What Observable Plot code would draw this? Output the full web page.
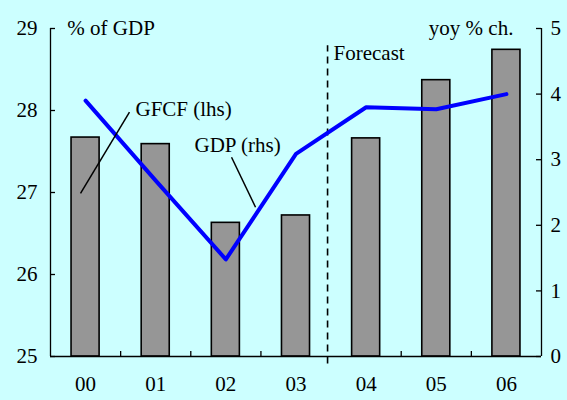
<!DOCTYPE html>
<html><head><meta charset="utf-8">
<script src="https://cdn.jsdelivr.net/npm/d3@7"></script>
<script src="https://cdn.jsdelivr.net/npm/@observablehq/plot@0.6"></script>
<style>
html,body{margin:0;padding:0;background:#ccffff;font-family:"Liberation Serif",serif;}
</style>
</head><body><div id="chart"></div>
<script>
const years = ["00","01","02","03","04","05","06"];
const gfcf = [27.67, 27.59, 26.63, 26.72, 27.66, 28.37, 28.74];
const gdp = [3.90, 2.68, 1.48, 3.09, 3.80, 3.77, 4.00];
const leftTicks = [25, 26, 27, 28, 29];
const rightTicks = [0, 1, 2, 3, 4, 5];
const forecastAt = 3.45;

const toLeft = v => 25 + v * 0.8;
const data = years.map((y, i) => ({i, year: y, gfcf: gfcf[i], gdp: gdp[i]}));
const bounds = years.slice(1).map((y, i) => i + 0.5).filter(b => Math.abs(b - forecastAt) > 0.2);
const tickLen = 5 / 70.14;
const tickLenY = 5 / 82;

const startLabels = [
  {x: -0.26, y: 29, text: "% of GDP"},
  {x: 3.535, y: 28.70, text: "Forecast"},
  {x: 0.712, y: 28.02, text: "GFCF (lhs)"},
  {x: 1.553, y: 27.57, text: "GDP (rhs)"}
];
const endLabels = [
  {x: 6.10, y: 29, text: "yoy % ch."}
];
const leaders = [
  {x1: -0.072, y1: 26.99, x2: 0.626, y2: 27.98},
  {x1: 2.081, y1: 27.43, x2: 2.423, y2: 26.82}
];

const serif = "Liberation Serif";
const fs = 21;
const chart = Plot.plot({
  width: 567, height: 400,
  marginLeft: 50, marginRight: 26, marginTop: 28, marginBottom: 44,
  style: {background: "#ccffff", fontFamily: serif, fontSize: fs + "px", color: "black"},
  x: {domain: [-0.5, 6.5], axis: null},
  y: {domain: [25, 29], axis: null},
  marks: [
    Plot.rectY(data, {x1: d => d.i - 0.2, x2: d => d.i + 0.2, y1: 25, y2: "gfcf", fill: "#969696", stroke: "black", strokeWidth: 1.6}),
    Plot.ruleX([forecastAt], {y1: 24.91, y2: 28.79, stroke: "black", strokeWidth: 1.6, strokeDasharray: "7,5"}),
    Plot.line(data, {x: "i", y: d => toLeft(d.gdp), stroke: "#0000ff", strokeWidth: 4}),
    Plot.link(leaders, {x1: "x1", y1: "y1", x2: "x2", y2: "y2", stroke: "black", strokeWidth: 1.5}),
    Plot.ruleX([-0.5, 6.5], {y1: 25, y2: 29, stroke: "black", strokeWidth: 1.3}),
    Plot.ruleY([25], {stroke: "black", strokeWidth: 1.3}),
    Plot.ruleX(bounds, {x: d => d, y1: 25, y2: 25 + tickLenY, stroke: "black", strokeWidth: 1.3}),
    Plot.ruleY(leftTicks, {y: d => d, x1: -0.5, x2: -0.5 + tickLen, stroke: "black", strokeWidth: 1.3}),
    Plot.ruleY(rightTicks.map(toLeft), {y: d => d, x1: 6.5 - tickLen, x2: 6.5, stroke: "black", strokeWidth: 1.3}),
    Plot.axisY(leftTicks, {anchor: "left", tickSize: 0, tickPadding: 13, fontSize: fs, fontFamily: serif, tickFormat: d => String(d)}),
    Plot.axisY(rightTicks.map(toLeft), {anchor: "right", tickSize: 0, tickPadding: 9, fontSize: fs, fontFamily: serif, tickFormat: d => String(Math.round((d - 25) / 0.8))}),
    Plot.axisX(d3.range(years.length), {anchor: "bottom", tickSize: 0, tickPadding: 20, fontSize: fs, fontFamily: serif, tickFormat: i => years[i]}),
    Plot.text(startLabels, {x: "x", y: "y", text: "text", textAnchor: "start", fontSize: fs, fontFamily: serif, fill: "black"}),
    Plot.text(endLabels, {x: "x", y: "y", text: "text", textAnchor: "end", fontSize: fs, fontFamily: serif, fill: "black"})
  ]
});
chart.querySelectorAll("text, g").forEach(el => el.style.fontFamily = "'Liberation Serif', 'DejaVu Serif', serif");
document.getElementById("chart").appendChild(chart);
</script>
</body></html>
